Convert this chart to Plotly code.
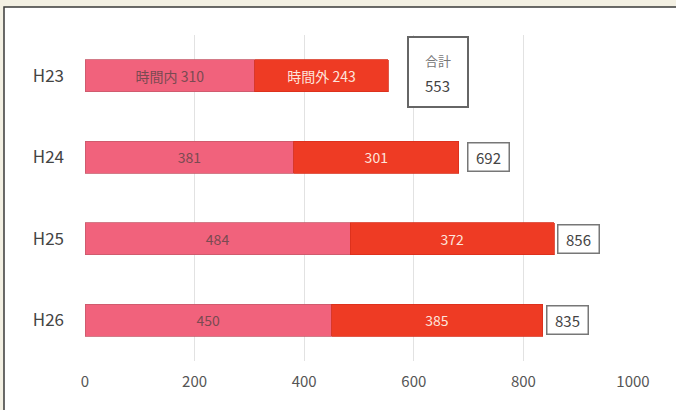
import plotly.graph_objects as go

categories = ["H23", "H24", "H25", "H26"]
in_hours = [310, 381, 484, 450]
out_hours = [243, 301, 372, 385]
totals = [553, 692, 856, 835]
x_ticks = [0, 200, 400, 600, 800, 1000]

in_text = [("時間内 " if i == 0 else "") + str(v) for i, v in enumerate(in_hours)]
out_text = [("時間外 " if i == 0 else "") + str(v) for i, v in enumerate(out_hours)]

FONT = "Noto Sans CJK JP, Noto Sans, sans-serif"

fig = go.Figure()
fig.add_trace(go.Bar(
    y=categories, x=in_hours, orientation="h", name="時間内",
    marker=dict(color="#f1627c", line=dict(color="#c85a6a", width=0.8)),
    width=0.39, text=in_text, textposition="inside", insidetextanchor="middle",
    textfont=dict(color="#7a4a52", size=14, family=FONT), textangle=0,
))
fig.add_trace(go.Bar(
    y=categories, x=out_hours, orientation="h", name="時間外",
    marker=dict(color="#ee3b24", line=dict(color="#d8301c", width=0.8)),
    width=0.39, text=out_text, textposition="inside", insidetextanchor="middle",
    textfont=dict(color="#fde4dc", size=14, family=FONT), textangle=0,
))

annotations = []
for i, (c, t) in enumerate(zip(categories, totals)):
    if i == 0:
        # boxed "合計 / total" placed to the right of the first bar
        annotations.append(dict(
            x=644, y=c, xref="x", yref="y", text=" ",
            showarrow=False, font=dict(size=13, color="#444", family=FONT),
            bordercolor="#666", borderwidth=2, bgcolor="white",
            width=56, height=66, yshift=4,
        ))
        annotations.append(dict(
            x=644, y=c, xref="x", yref="y", text="合計",
            showarrow=False, font=dict(size=13, color="#777", family=FONT),
            yshift=15,
        ))
        annotations.append(dict(
            x=644, y=c, xref="x", yref="y", text=str(t),
            showarrow=False, font=dict(size=15, color="#444", family=FONT),
            yshift=-10,
        ))
    else:
        annotations.append(dict(
            x=t, y=c, xref="x", yref="y", text=str(t),
            showarrow=False, font=dict(size=15, color="#444", family=FONT),
            bordercolor="#777", borderwidth=1.5, bgcolor="white",
            width=38, height=25, xanchor="left", xshift=3, align="center",
        ))

# panel background (white frame on beige page)
shapes = [dict(
    type="rect", xref="paper", yref="paper",
    x0=(4 - 85) / 548, x1=(690 - 85) / 548,
    y0=(361 - 420) / 326, y1=(361 - 7) / 326,
    fillcolor="white", line=dict(color="#3a3a3a", width=1.5), layer="below",
)]

fig.update_layout(
    width=676, height=410,
    margin=dict(l=85, r=43, t=35, b=49, autoexpand=False),
    paper_bgcolor="#f3f0e3", plot_bgcolor="rgba(0,0,0,0)",
    barmode="stack", showlegend=False,
    annotations=annotations, shapes=shapes,
    font=dict(family=FONT),
)
fig.update_xaxes(
    range=[0, 1000], tickvals=x_ticks, showgrid=True, gridcolor="#e2e2e2",
    gridwidth=1, zeroline=False, showline=False,
    tickfont=dict(size=15, color="#555", family=FONT), ticklabelstandoff=10,
)
fig.update_yaxes(
    autorange="reversed", showgrid=False, zeroline=False, showline=False,
    tickfont=dict(size=17, color="#444", family=FONT), ticklabelstandoff=20,
)

fig.write_html("out.html", config={"displayModeBar": False},
               post_script="document.body.style.margin='0';")
